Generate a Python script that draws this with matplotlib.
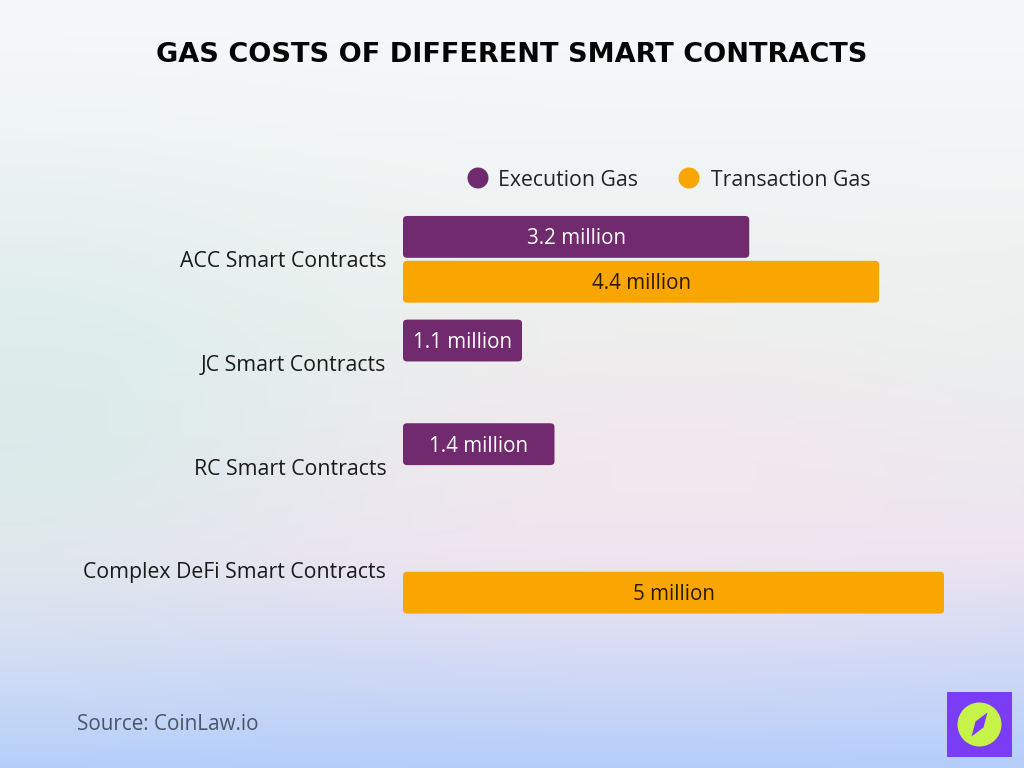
import numpy as np
import matplotlib
matplotlib.use("Agg")
import matplotlib.pyplot as plt
from matplotlib.patches import FancyBboxPatch, Ellipse, Rectangle, Polygon

# data
categories = ["ACC Smart Contracts", "JC Smart Contracts", "RC Smart Contracts",
              "Complex DeFi Smart Contracts"]
execution_gas = [3.2, 1.1, 1.4, None]
transaction_gas = [4.4, None, None, 5.0]
exec_labels = ["3.2 million", "1.1 million", "1.4 million", ""]
trans_labels = ["4.4 million", "", "", "5 million"]
series_names = ["Execution Gas", "Transaction Gas"]

PURPLE = "#722a6f"
ORANGE = "#f9a602"
FONT = "Open Sans"

W, H = 1024, 768
fig = plt.figure(figsize=(W / 100, H / 100), dpi=100)

# background gradient
bg = fig.add_axes([0, 0, 1, 1])
yy, xx = np.mgrid[0:1:200j, 0:1:260j]
stops_y = [0.0, 0.45, 0.72, 1.0]
cols = np.array([[247, 248, 250], [234, 241, 238], [236, 228, 241], [180, 206, 250]]) / 255
img = np.zeros(yy.shape + (3,))
for c in range(3):
    img[..., c] = np.interp(yy, stops_y, cols[:, c])
# pink glow right of center, green tint on left
pink = np.exp(-(((xx - 0.65) / 0.3) ** 2 + ((yy - 0.6) / 0.22) ** 2))
green = np.exp(-(((xx - 0.0) / 0.3) ** 2 + ((yy - 0.55) / 0.28) ** 2))
img += pink[..., None] * (np.array([248, 230, 236]) / 255 - img) * 0.5
img += green[..., None] * (np.array([214, 235, 232]) / 255 - img) * 0.75
bg.imshow(np.clip(img, 0, 1), aspect="auto", extent=[0, 1, 0, 1], origin="upper")
bg.set_xlim(0, 1)
bg.set_ylim(0, 1)
bg.axis("off")

# main axes placed in pixel coordinates
left_px, right_px, top_px, bot_px = 403, 1000, 200, 640
ax = fig.add_axes([left_px / W, 1 - bot_px / H, (right_px - left_px) / W, (bot_px - top_px) / H])
ax.patch.set_alpha(0)
px_per_unit = 108.2
ax.set_xlim(0, (right_px - left_px) / px_per_unit)
spacing = 104.0
ax.set_ylim(3 + (bot_px - 570) / spacing, -(259.5 - top_px) / spacing)
for s in ax.spines.values():
    s.set_visible(False)
ax.set_xticks([])
ax.set_yticks(range(len(categories)))
ax.set_yticklabels(categories, fontsize=15.3, family=FONT, color="#1a1a1a")
ax.tick_params(axis="y", length=0, pad=12)

bar_h = 42 / spacing
off = 22.5 / spacing


def rbar(x, y, val, color):
    p = FancyBboxPatch((x, y - bar_h / 2), val, bar_h,
                       boxstyle="round,pad=0,rounding_size=0.04",
                       mutation_aspect=0.9, fc=color, ec="none")
    ax.add_patch(p)


for i, cat in enumerate(categories):
    for vals, labs, color, tcol, dy in [(execution_gas, exec_labels, PURPLE, "white", -off),
                                        (transaction_gas, trans_labels, ORANGE, "#2a1a05", off)]:
        v = vals[i]
        if v is None:
            continue
        y = i + dy
        rbar(0, y, v, color)
        ax.text(v / 2, y + 0.02, labs[i], ha="center", va="center", fontsize=14.8,
                family=FONT, color=tcol)

# legend
for x_c, x_t, color, lab in [(478, 498, PURPLE, series_names[0]),
                             (689, 711, ORANGE, series_names[1])]:
    bg.add_patch(Ellipse((x_c / W, 1 - 178 / H), 21 / W, 21 / H, fc=color, ec="none"))
    bg.text(x_t / W, 1 - 180 / H, lab, fontsize=15.3, family=FONT, color="#222222",
            ha="left", va="center")

# title
fig.text(0.5, 1 - 55 / H, "GAS COSTS OF DIFFERENT SMART CONTRACTS", ha="center", va="center",
         fontsize=19.5, fontweight="heavy", family="DejaVu Sans", color="#050505")

# source
fig.text(77 / W, 1 - 725 / H, "Source: CoinLaw.io", fontsize=14.9, family=FONT,
         color="#4a5568", ha="left", va="center")

# logo
bg.add_patch(Rectangle((947 / W, 1 - 757 / H), 65 / W, 65 / H, fc="#7a3cf5", ec="none"))
bg.add_patch(Ellipse((979.5 / W, 1 - 724.5 / H), 44 / W, 44 / H, fc="#c6f24a", ec="none"))
cx, cy = 979.5, 724.5
diamond = [(cx + 8, cy - 12), (cx + 4, cy + 3), (cx - 8, cy + 12), (cx - 4, cy - 3)]
bg.add_patch(Polygon([(px / W, 1 - py / H) for px, py in diamond], fc="#7a3cf5", ec="none"))

fig.savefig("out.png", dpi=100)
